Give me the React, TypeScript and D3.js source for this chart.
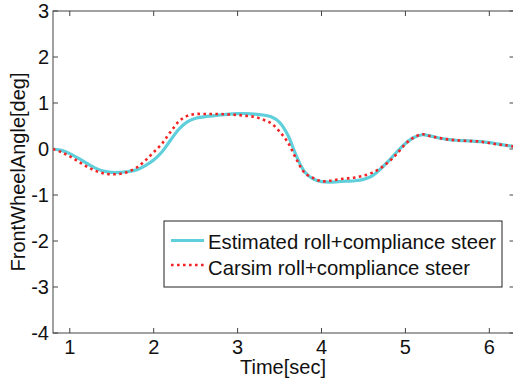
import React from "react";
import * as d3 from "d3";

const times: number[] = [
  0.8, 0.9, 1.0, 1.1, 1.2, 1.3, 1.4, 1.5, 1.6, 1.7, 1.8, 1.9, 2.0, 2.1, 2.2, 2.3, 2.4, 2.5, 2.6, 2.7,
  2.8, 2.9, 3.0, 3.1, 3.2, 3.3, 3.4, 3.5, 3.6, 3.7, 3.8, 3.9, 4.0, 4.1, 4.2, 4.3, 4.4, 4.5, 4.6, 4.7,
  4.8, 4.9, 5.0, 5.1, 5.2, 5.3, 5.4, 5.5, 5.6, 5.7, 5.8, 5.9, 6.0, 6.1, 6.2, 6.3,
];

const estimated: number[] = [
  0.0, -0.03, -0.1, -0.2, -0.31, -0.41, -0.48, -0.51, -0.51, -0.49, -0.45, -0.36, -0.24, -0.06, 0.19, 0.43, 0.59, 0.67, 0.7, 0.72,
  0.74, 0.76, 0.77, 0.77, 0.76, 0.74, 0.7, 0.58, 0.3, -0.15, -0.5, -0.65, -0.71, -0.72, -0.71, -0.7, -0.69, -0.66, -0.59, -0.44,
  -0.26, -0.06, 0.12, 0.25, 0.31, 0.28, 0.24, 0.21, 0.19, 0.18, 0.17, 0.16, 0.14, 0.11, 0.08, 0.05,
];

const carsim: number[] = [
  0.0, -0.07, -0.16, -0.27, -0.38, -0.47, -0.53, -0.55, -0.54, -0.49, -0.4, -0.25, -0.07, 0.12, 0.37, 0.6, 0.72, 0.76, 0.76, 0.76,
  0.76, 0.75, 0.74, 0.72, 0.7, 0.64, 0.56, 0.38, 0.14, -0.22, -0.52, -0.63, -0.7, -0.69, -0.66, -0.64, -0.62, -0.58, -0.52, -0.42,
  -0.28, -0.1, 0.11, 0.25, 0.32, 0.28, 0.24, 0.21, 0.19, 0.18, 0.17, 0.16, 0.13, 0.1, 0.08, 0.05,
];

const xTicks: number[] = [1, 2, 3, 4, 5, 6];
const yTicks: number[] = [-4, -3, -2, -1, 0, 1, 2, 3];
const seriesNames: string[] = ["Estimated roll+compliance steer", "Carsim roll+compliance steer"];

const W = 513;
const H = 382;
const left = 53;
const right = 514.5;
const top = 11;
const bottom = 333;
const FONT = "'Liberation Sans', Arial, sans-serif";
const CYAN = "#5fcfdc";
const RED = "#f42323";

export default function App() {
  const x = d3.scaleLinear().domain([0.8, 6.3]).range([left, right]);
  const y = d3.scaleLinear().domain([-4, 3]).range([bottom, top]);

  const line = (vals: number[]) =>
    d3
      .line<number>()
      .x((_, i) => x(times[i]))
      .y((v) => y(v))
      .curve(d3.curveCatmullRom.alpha(0.5))(vals) || "";

  const tickLen = 5;

  return (
    <svg
      width={W}
      height={H}
      style={{ position: "absolute", left: 0, top: 0, background: "#fff" }}
      fontFamily={FONT}
    >
      <defs>
        <clipPath id="plotclip">
          <rect x={left} y={top} width={right - left} height={bottom - top} />
        </clipPath>
      </defs>
      <rect x={0} y={0} width={W} height={H} fill="#fff" />

      <rect x={left} y={top} width={right - left} height={bottom - top} fill="none" stroke="#444" strokeWidth={1} />

      {xTicks.map((t) => (
        <g key={"x" + t}>
          <line x1={x(t)} x2={x(t)} y1={bottom} y2={bottom - tickLen} stroke="#444" />
          <line x1={x(t)} x2={x(t)} y1={top} y2={top + tickLen} stroke="#444" />
          <text x={x(t)} y={354} fontSize={20} textAnchor="middle" fill="#111">
            {t}
          </text>
        </g>
      ))}

      {yTicks.map((t) => (
        <g key={"y" + t}>
          <line x1={left} x2={left + tickLen} y1={y(t)} y2={y(t)} stroke="#444" />
          <line x1={right} x2={right - tickLen} y1={y(t)} y2={y(t)} stroke="#444" />
          <text x={49} y={y(t) + 7} fontSize={20} textAnchor="end" fill="#111">
            {t}
          </text>
        </g>
      ))}

      <text x={283} y={374} fontSize={20} textAnchor="middle" fill="#111">
        Time[sec]
      </text>
      <text
        transform={`translate(25,${(top + bottom) / 2}) rotate(-90)`}
        fontSize={20}
        textAnchor="middle"
        fill="#111"
      >
        FrontWheelAngle[deg]
      </text>

      <g clipPath="url(#plotclip)">
        <path d={line(estimated)} fill="none" stroke={CYAN} strokeWidth={3.2} strokeLinejoin="round" />
        <path d={line(carsim)} fill="none" stroke={RED} strokeWidth={2.6} strokeDasharray="2.6,3.4" />
      </g>

      <rect x={164} y={221} width={338} height={66} fill="#fff" stroke="#222" strokeWidth={1} />
      <line x1={171} x2={204} y1={240.5} y2={240.5} stroke={CYAN} strokeWidth={3} />
      <text x={208} y={249} fontSize={20.3} fill="#111">
        {seriesNames[0]}
      </text>
      <line x1={171} x2={204} y1={265} y2={265} stroke={RED} strokeWidth={2.6} strokeDasharray="2.6,3.4" />
      <text x={208} y={275} fontSize={20.3} fill="#111">
        {seriesNames[1]}
      </text>
    </svg>
  );
}
